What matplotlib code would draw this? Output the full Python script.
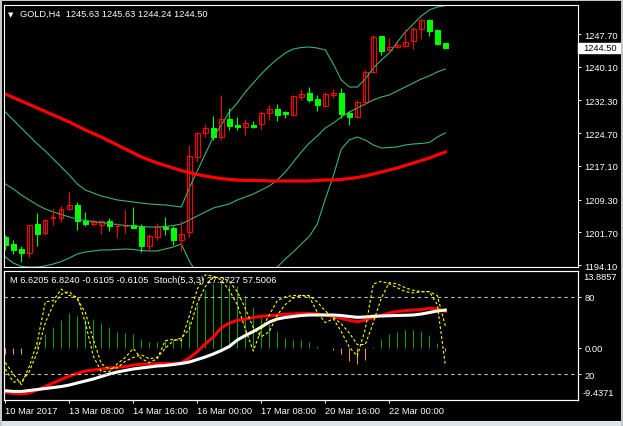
import matplotlib.pyplot as plt
import matplotlib.transforms as mtransforms
from matplotlib.patches import Rectangle
import numpy as np

plt.rcParams['font.family'] = ['Liberation Sans', 'DejaVu Sans']

# GOLD H4 candles (10 Mar - 22 Mar 2017)
open_ = [1200.5, 1199.0, 1197.8, 1196.8, 1203.6, 1201.5, 1204.9, 1205.1, 1207.0, 1208.0,
         1204.4, 1203.6, 1203.5, 1204.3, 1203.1, 1203.1, 1203.5, 1202.9, 1198.4, 1200.5,
         1202.9, 1202.7, 1199.8, 1201.7, 1219.1, 1224.7, 1226.0, 1223.9, 1227.9, 1226.5,
         1226.2, 1226.7, 1226.8, 1229.3, 1230.2, 1229.7, 1229.0, 1233.1, 1234.0, 1232.6,
         1231.1, 1233.6, 1234.0, 1229.3, 1228.5, 1231.9, 1239.0, 1247.2, 1244.1, 1244.6,
         1245.0, 1246.0, 1248.9, 1251.0, 1248.7, 1245.63]
high = [1201.1, 1199.8, 1198.5, 1203.4, 1206.1, 1204.8, 1207.1, 1207.9, 1211.1, 1208.7,
        1206.5, 1204.8, 1204.6, 1204.9, 1203.9, 1206.9, 1207.6, 1203.6, 1201.3, 1203.9,
        1205.3, 1203.1, 1204.4, 1222.0, 1225.0, 1226.8, 1228.6, 1233.6, 1230.5, 1228.4,
        1227.9, 1227.5, 1229.9, 1231.2, 1231.5, 1229.9, 1233.6, 1234.9, 1235.4, 1233.6,
        1234.2, 1234.9, 1235.2, 1229.9, 1232.5, 1239.4, 1247.5, 1247.3, 1246.8, 1245.8,
        1248.9, 1249.3, 1251.2, 1251.2, 1248.9, 1245.63]
low = [1197.6, 1196.7, 1194.9, 1196.0, 1198.4, 1201.1, 1203.5, 1204.0, 1206.9, 1202.2,
       1203.1, 1203.1, 1201.3, 1202.1, 1200.4, 1201.5, 1202.6, 1197.2, 1197.6, 1200.0,
       1201.1, 1198.8, 1197.4, 1200.5, 1217.9, 1223.9, 1223.2, 1223.1, 1225.4, 1225.4,
       1224.3, 1225.8, 1225.6, 1227.8, 1227.6, 1228.2, 1228.9, 1232.4, 1232.0, 1229.9,
       1230.8, 1232.8, 1228.1, 1226.7, 1228.1, 1231.2, 1238.7, 1242.9, 1243.9, 1244.4,
       1244.6, 1244.2, 1246.5, 1247.2, 1245.2, 1244.24]
close = [1198.7, 1197.7, 1197.0, 1203.4, 1201.3, 1204.5, 1205.2, 1207.0, 1208.0, 1204.2,
         1203.6, 1204.0, 1204.2, 1203.1, 1203.2, 1203.2, 1202.7, 1198.6, 1200.8, 1202.9,
         1202.4, 1199.8, 1201.3, 1219.3, 1224.7, 1226.0, 1223.9, 1227.9, 1226.4, 1226.2,
         1227.0, 1226.2, 1229.3, 1230.3, 1229.0, 1229.2, 1233.3, 1233.8, 1232.5, 1231.3,
         1233.8, 1234.0, 1229.1, 1228.5, 1231.9, 1239.0, 1246.9, 1243.8, 1244.6, 1245.2,
         1245.8, 1248.9, 1251.0, 1248.5, 1245.4, 1244.50]

bb_upper = [1229.60, 1227.75, 1225.89, 1224.04, 1222.18, 1220.56, 1218.70, 1216.84, 1214.99, 1212.90,
            1211.51, 1210.81, 1210.12, 1209.65, 1209.19, 1208.96, 1208.72, 1208.49, 1208.26, 1208.14,
            1208.03, 1207.80, 1207.56, 1211.97, 1215.92, 1219.86, 1223.80, 1226.59, 1229.60, 1231.69,
            1234.24, 1236.33, 1238.42, 1240.28, 1241.90, 1243.29, 1244.22, 1244.57, 1244.68, 1244.45,
            1243.99, 1240.74, 1237.03, 1235.40, 1235.40, 1237.26, 1239.81, 1241.67, 1243.29, 1245.84,
            1248.16, 1250.02, 1251.88, 1253.27, 1253.96, 1254.31]
bb_middle = [1212.90, 1211.74, 1210.35, 1209.19, 1208.03, 1207.10, 1206.40, 1205.82, 1205.24, 1204.78,
             1204.43, 1204.20, 1203.97, 1203.74, 1203.50, 1203.27, 1203.16, 1203.04, 1202.92, 1202.92,
             1203.04, 1203.27, 1203.62, 1204.55, 1205.48, 1206.40, 1207.33, 1207.80, 1208.26, 1209.19,
             1209.88, 1210.58, 1211.51, 1212.44, 1213.83, 1215.68, 1218.00, 1220.32, 1222.41, 1224.04,
             1225.89, 1227.05, 1228.44, 1229.60, 1230.53, 1231.46, 1232.39, 1233.08, 1233.55, 1234.48,
             1235.40, 1236.33, 1237.26, 1237.96, 1238.90, 1239.58]
bb_lower = [1195.96, 1194.57, 1193.76, 1193.64, 1193.64, 1193.88, 1194.34, 1194.92, 1195.73, 1196.66,
            1197.12, 1197.36, 1197.59, 1197.59, 1197.70, 1197.82, 1197.70, 1197.47, 1197.36, 1197.36,
            1197.82, 1198.28, 1198.98, 1195.04, 1192.02, 1189.47, 1187.38, 1186.22, 1185.52, 1185.52,
            1186.22, 1187.38, 1189.00, 1191.09, 1193.64, 1195.50, 1197.12, 1198.98, 1200.72, 1203.62,
            1209.42, 1214.76, 1221.02, 1223.11, 1223.80, 1223.11, 1221.95, 1221.25, 1221.37, 1221.49,
            1221.95, 1222.18, 1222.30, 1222.53, 1223.80, 1224.73]
ma_slow = [1233.78, 1232.97, 1232.16, 1231.34, 1230.53, 1229.72, 1228.91, 1228.10, 1227.28, 1226.36,
           1225.43, 1224.62, 1223.80, 1222.88, 1221.95, 1221.02, 1220.09, 1219.16, 1218.47, 1217.77,
           1217.19, 1216.61, 1216.03, 1215.57, 1215.10, 1214.76, 1214.41, 1214.18, 1213.94, 1213.83,
           1213.71, 1213.71, 1213.71, 1213.60, 1213.60, 1213.60, 1213.60, 1213.60, 1213.60, 1213.71,
           1213.83, 1213.83, 1213.94, 1214.18, 1214.41, 1214.76, 1215.22, 1215.68, 1216.15, 1216.61,
           1217.19, 1217.77, 1218.35, 1218.93, 1219.63, 1220.32]

# lower window: "M" indicator (two lines + histogram) and Stoch(5,3,3)
m_red = [-8.05, -8.26, -8.35, -8.17, -7.63, -7.00, -6.36, -5.73, -5.10, -4.65,
         -4.19, -4.01, -3.83, -3.65, -3.53, -3.38, -3.11, -2.98, -2.93, -2.87,
         -2.84, -2.80, -2.75, -1.84, -0.67, 0.69, 1.95, 3.60, 4.48, 4.94,
         5.21, 5.48, 5.70, 5.80, 5.93, 6.06, 6.11, 6.24, 6.20, 6.11,
         5.93, 5.66, 5.30, 4.97, 4.72, 4.97, 5.48, 5.88, 6.29, 6.56,
         6.71, 6.83, 6.92, 7.11, 7.01, 6.62]
m_white = [-7.76, -7.90, -7.90, -7.72, -7.54, -7.36, -7.18, -7.00, -6.73, -6.36,
           -6.00, -5.64, -5.19, -4.74, -4.38, -4.10, -3.83, -3.65, -3.47, -3.29,
           -3.20, -3.02, -2.84, -2.57, -2.12, -1.66, -1.12, -0.49, 0.24, 1.41,
           2.22, 2.95, 3.76, 4.66, 5.21, 5.48, 5.66, 5.84, 5.93, 5.93,
           5.93, 5.93, 5.84, 5.66, 5.51, 5.57, 5.70, 5.75, 5.80, 5.84,
           5.88, 5.93, 6.11, 6.38, 6.65, 6.82]
m_hist = [-1.1, -1.1, -1.1, 0.0, 0.87, 2.5, 3.8, 5.1, 6.3, 5.8,
          5.2, 5.2, 4.5, 3.7, 2.8, 2.7, 2.5, 1.6, 1.0, 1.0,
          1.4, 1.2, 2.0, 4.8, 7.7, 10.5, 11.6, 11.9, 11.4, 11.2,
          9.5, 7.3, 5.7, 4.3, 3.1, 1.8, 1.45, 1.35, 1.1, 0.4,
          0.0, -0.35, -1.2, -2.4, -3.0, -2.2, 0.1, 1.6, 2.5, 2.9,
          3.2, 3.2, 3.05, 2.3, 0.9, -0.6105]
stoch_main = [29, 20, 12, 26, 45, 76, 77, 86, 81, 80,
              60, 34, 22, 22, 28, 33, 40, 32, 29, 32,
              46, 47, 46, 65, 86, 97, 96, 93, 85, 74,
              55, 38, 55, 66, 77, 80, 81, 81, 80, 68,
              60, 63, 53, 41, 34, 55, 90, 92, 90, 87,
              84, 83, 84, 84, 74, 27.2727]
stoch_signal = [24, 14, 14, 22, 37, 60, 74, 82, 84, 78,
                68, 47, 28, 24, 25, 30, 33, 35, 32, 33,
                40, 46, 48, 55, 75, 88, 95, 95, 92, 84,
                71, 56, 49, 53, 66, 74, 79, 81, 81, 76,
                69, 64, 59, 52, 43, 43, 60, 79, 91, 90,
                87, 85, 84, 84, 81, 57.5006]

price_ticks = [1247.70, 1240.10, 1232.30, 1224.70, 1217.10, 1209.30, 1201.70, 1194.10]
date_pos = [0, 8, 16, 24, 32, 40, 48]
date_labels = ['10 Mar 2017', '13 Mar 08:00', '14 Mar 16:00', '16 Mar 00:00',
               '17 Mar 08:00', '20 Mar 16:00', '22 Mar 00:00']

W, H = 623, 427
FS = 6.7


def box(l, t, r, b):
    return [l / W, 1 - b / H, (r - l) / W, (b - t) / H]


fig = plt.figure(figsize=(W / 100, H / 100), dpi=100, facecolor='black')

# window frame
fig.patches.append(Rectangle((0, 0), 1, 5 / H, transform=fig.transFigure, fc='#dde5ee', ec='none'))
fig.patches.append(Rectangle((0, 0), 2 / W, 1, transform=fig.transFigure, fc='#c8c8c8', ec='none'))
fig.patches.append(Rectangle((0, 1 - 2 / H), 1, 2 / H, transform=fig.transFigure, fc='#c8c8c8', ec='none'))
fig.patches.append(Rectangle((1 - 2 / W, 0), 2 / W, 1, transform=fig.transFigure, fc='#c8c8c8', ec='none'))

ax = fig.add_axes(box(4, 6, 578, 268))
axl = fig.add_axes(box(4, 272, 578, 401))
axs = axl.twinx()

x = np.arange(len(close))
xlim = (-0.1625, 71.5875)

o = np.array(open_)
c = np.array(close)
up = c >= o
col = np.where(up, '#ff0000', '#00ff00')

ax.plot(x, bb_upper, color='#3cb371', lw=0.8)
ax.plot(x, bb_middle, color='#3cb371', lw=0.8)
ax.plot(x, bb_lower, color='#3cb371', lw=0.8)
ax.plot(x, ma_slow, color='#ff0000', lw=2.3)
ax.vlines(x, low, high, colors=col, lw=0.8)
ax.bar(x, np.abs(c - o), bottom=np.minimum(o, c), width=0.55,
       color=np.where(up, 'black', '#00ff00'), edgecolor=col, linewidth=0.8)

ax.set_xlim(*xlim)
ax.set_ylim(1193.64, 1254.43)
ax.set_facecolor('black')
ax.set_xticks([])
ax.yaxis.tick_right()
ax.set_yticks(price_ticks)
ax.set_yticklabels(['%.2f' % p for p in price_ticks])
ax.tick_params(axis='y', colors='white', labelsize=FS, length=2.5, width=0.7, pad=2)

# current price box
tr = mtransforms.blended_transform_factory(ax.transAxes, ax.transData)
ax.add_patch(Rectangle((1.0, close[-1] - 1.1), 43 / 574, 2.2, transform=tr,
                       fc='white', ec='white', clip_on=False, zorder=5))
ax.text(1 + 5 / 574, close[-1], '%.2f' % close[-1], transform=tr, color='black',
        fontsize=FS, va='center', ha='left', zorder=6)

# lower window
axl.set_facecolor('black')
hcol = np.where(np.array(m_hist) >= 0, '#129a12', '#f08a6a')
axl.vlines(x, 0, m_hist, colors=hcol, lw=0.8)
axl.plot(x, m_red, color='#ff0000', lw=2.2)
axl.plot(x, m_white, color='white', lw=2.2)
axl.set_ylim(-9.4371, 13.8857)
axl.set_xlim(*xlim)

axs.axhline(80, color='#c0c0c0', lw=0.8, ls=(0, (3, 3)))
axs.axhline(20, color='#c0c0c0', lw=0.8, ls=(0, (3, 3)))
axs.plot(x, stoch_signal, color='#ffff00', lw=0.8, ls=(0, (2.5, 2)))
axs.plot(x, stoch_main, color='#ffff00', lw=0.8, ls=(0, (2.5, 2)))
axs.set_ylim(0, 100)
axs.set_xlim(*xlim)

axl.yaxis.tick_right()
axl.set_yticks([0])
axl.set_yticklabels(['0.00'])
axs.set_yticks([80, 20])
axs.set_yticklabels(['80', '20'])
for a in (axl, axs):
    a.tick_params(axis='y', colors='white', labelsize=FS, length=2.5, width=0.7, pad=2)

axl.set_xticks(date_pos)
axl.set_xticklabels(date_labels, ha='left')
axl.tick_params(axis='x', colors='white', labelsize=FS, length=2.5, width=0.7, pad=1.5)

for a in (ax, axl, axs):
    for s in a.spines.values():
        s.set_color('white')
        s.set_linewidth(0.8)

fig.text(583 / W, 1 - 278 / H, '13.8857', color='white', fontsize=FS, va='center')
fig.text(583 / W, 1 - 394 / H, '-9.4371', color='white', fontsize=FS, va='center')

fig.text(8 / W, 1 - 14.7 / H, '\u25bc', color='white', fontsize=5, va='center', family='DejaVu Sans')
fig.text(20 / W, 1 - 14.7 / H, 'GOLD,H4  1245.63 1245.63 1244.24 1244.50',
         color='white', fontsize=FS, va='center')
fig.text(10 / W, 1 - 280.7 / H,
         'M 6.6205 6.8240 -0.6105 -0.6105  Stoch(5,3,3) 27.2727 57.5006',
         color='white', fontsize=FS, va='center')

fig.savefig('out.png', dpi=100, facecolor='black')
